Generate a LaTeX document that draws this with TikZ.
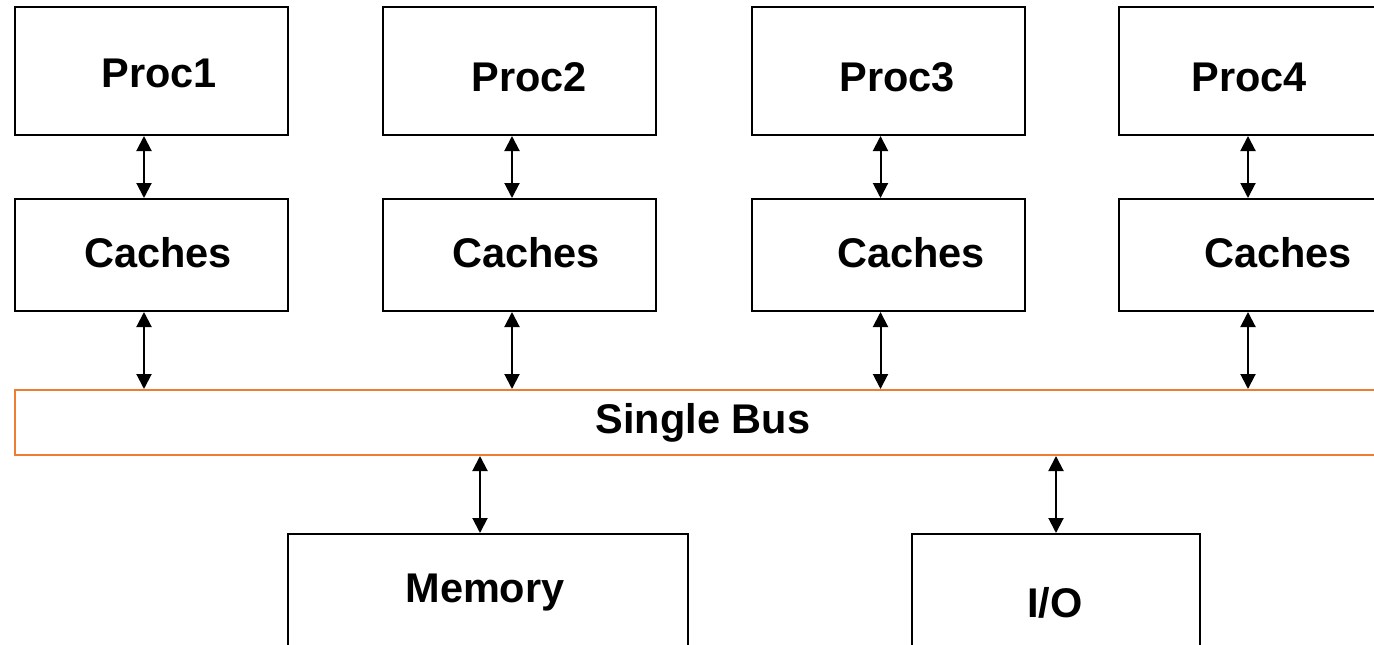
\documentclass[tikz,border=0pt]{standalone}
\usepackage{xcolor}
\usepackage{fontspec}
\setmainfont{Liberation Sans}
\usepackage{tikz}
\usetikzlibrary{arrows.meta}

\definecolor{busorange}{RGB}{237,125,49}
\tikzset{
  unitbox/.style={draw, line width=2pt, rectangle, anchor=north west, inner sep=0pt, minimum width=273pt},
  boxtext/.style={draw=none, anchor=base, inner sep=0pt, font=\fontsize{41.5}{50}\selectfont\bfseries},
  biarrow/.style={line width=2pt, {Triangle[width=15pt,length=15pt]}-{Triangle[width=15pt,length=15pt]}}
}

\begin{document}
\begin{tikzpicture}[x=1pt, y=-1pt]
             \clip (0,0) rectangle (1374,645);

             % processors
             \node[unitbox, minimum height=128pt] (p1) at (14, 6) {};
             \node[unitbox, minimum height=128pt] (p2) at (382, 6) {};
             \node[unitbox, minimum height=128pt] (p3) at (751, 6) {};
             \node[unitbox, minimum height=128pt] (p4) at (1118, 6) {};
             \node[boxtext] (tp1) at (159, 87) {Proc1};
             \node[boxtext] (tp2) at (529, 91) {Proc2};
             \node[boxtext] (tp3) at (897, 91) {Proc3};
             \node[boxtext] (tp4) at (1249, 91) {Proc4};

             % caches
             \node[unitbox, minimum height=112pt] (c1) at (14, 198) {};
             \node[unitbox, minimum height=112pt] (c2) at (382, 198) {};
             \node[unitbox, minimum height=112pt] (c3) at (751, 198) {};
             \node[unitbox, minimum height=112pt] (c4) at (1118, 198) {};
             \node[boxtext] (tc1) at (158, 267) {Caches};
             \node[boxtext] (tc2) at (526, 267) {Caches};
             \node[boxtext] (tc3) at (911, 267) {Caches};
             \node[boxtext] (tc4) at (1278, 267) {Caches};

             % bus
             \node[unitbox, draw=busorange, minimum width=1400pt, minimum height=65pt] (bus) at (14, 389) {};
             \node[boxtext] (tbus) at (703, 433) {Single Bus};

             % memory and io
             \node[unitbox, minimum width=400pt, minimum height=150pt] (mem) at (287, 533) {};
             \node[unitbox, minimum width=288pt, minimum height=150pt] (io) at (911, 533) {};
             \node[boxtext] (tmem) at (485, 602) {Memory};
             \node[boxtext] (tio) at (1055, 617) {I/O};

             % links
             \draw[biarrow] ([xshift=-7.5pt]p1.south) -- ([xshift=-7.5pt]c1.north);
             \draw[biarrow] ([xshift=-7.5pt]p2.south) -- ([xshift=-7.5pt]c2.north);
             \draw[biarrow] ([xshift=-8pt]p3.south) -- ([xshift=-8pt]c3.north);
             \draw[biarrow] ([xshift=-7.5pt]p4.south) -- ([xshift=-7.5pt]c4.north);
             \draw[biarrow] ([xshift=-7.5pt]c1.south) -- ([xshift=-7.5pt]c1.south |- bus.north);
             \draw[biarrow] ([xshift=-7.5pt]c2.south) -- ([xshift=-7.5pt]c2.south |- bus.north);
             \draw[biarrow] ([xshift=-8pt]c3.south) -- ([xshift=-8pt]c3.south |- bus.north);
             \draw[biarrow] ([xshift=-7.5pt]c4.south) -- ([xshift=-7.5pt]c4.south |- bus.north);
             \draw[biarrow] ([xshift=-8pt]mem.north |- bus.south) -- ([xshift=-8pt]mem.north);
             \draw[biarrow] (io.north |- bus.south) -- (io.north);
\end{tikzpicture}
\end{document}
